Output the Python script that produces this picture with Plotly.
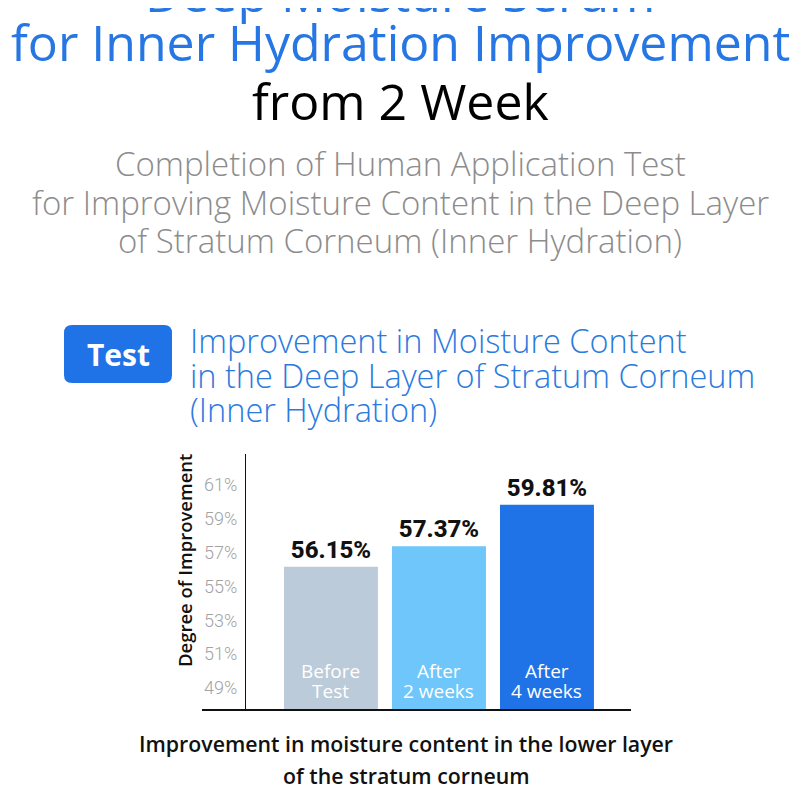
import plotly.graph_objects as go

# Dados do gráfico
categorias = ["Before Test", "After 2 weeks", "After 4 weeks"]
rotulos_barras = ["Before<br>Test", "After<br>2 weeks", "After<br>4 weeks"]
valores = [56.15, 57.37, 59.81]
cores_barras = ["#bccbd9", "#6ec6fb", "#1f73e6"]
ticks_valores = [49, 51, 53, 55, 57, 59, 61]
ticks_textos = ["49%", "51%", "53%", "55%", "57%", "59%", "61%"]

titulo = ["Deep Moisture Serum", "for Inner Hydration Improvement", "from 2 Week"]
subtitulo = ["Completion of Human Application Test",
             "for Improving Moisture Content in the Deep Layer",
             "of Stratum Corneum (Inner Hydration)"]
linhas_teste = ["Improvement in Moisture Content",
                "in the Deep Layer of Stratum Corneum",
                "(Inner Hydration)"]
legenda_baixo = ["Improvement in moisture content in the lower layer",
                 "of the stratum corneum"]

AZUL = "#1f73e6"
W, H = 800, 802
OFF = 8  # margem do body da página


def px(p):
    return (p - OFF) / W


def py(p):
    return 1 - (p - OFF) / H


def caixa_arredondada(x0, y0, x1, y1, r):
    # retângulo com cantos arredondados em coordenadas do papel
    rx, ry = r / W, r / H
    a, b, c, d = px(x0), py(y1), px(x1), py(y0)
    return (f"M {a+rx},{b} L {c-rx},{b} Q {c},{b} {c},{b+ry} "
            f"L {c},{d-ry} Q {c},{d} {c-rx},{d} L {a+rx},{d} "
            f"Q {a},{d} {a},{d-ry} L {a},{b+ry} Q {a},{b} {a+rx},{b} Z")


fig = go.Figure()

fig.add_trace(go.Bar(
    x=categorias,
    y=valores,
    marker_color=cores_barras,
    marker_line_width=0,
    text=[f"{v:.2f}%" for v in valores],
    textposition="outside",
    textfont=dict(family="Roboto", size=24, color="#111111", weight=800),
    cliponaxis=False,
    hoverinfo="skip",
))

anotacoes = []
cores_titulo = ["#2677e3", "#2677e3", "#000000"]
posicoes_titulo = [-7, 42, 101]  # primeira linha cortada no topo
for linha, cor, yy in zip(titulo, cores_titulo, posicoes_titulo):
    anotacoes.append(dict(text=linha, x=px(400), y=py(yy),
                          font=dict(family="Open Sans", size=50, color=cor)))

for i, linha in enumerate(subtitulo):
    anotacoes.append(dict(text=linha, x=px(400), y=py(163 + 39 * i),
                          font=dict(family="Open Sans", size=33, color="#8c8c8c", weight=300)))

for i, linha in enumerate(linhas_teste):
    anotacoes.append(dict(text=linha, x=px(188), y=py(341 + 34 * i), xanchor="left",
                          font=dict(family="Open Sans", size=32.5, color="#2a7ae0", weight=300)))

for i, linha in enumerate(legenda_baixo):
    anotacoes.append(dict(text=linha, x=px(406), y=py(743 + 32 * i),
                          font=dict(family="Open Sans", size=21.3, color="#111111", weight=600)))

anotacoes += [
    dict(text="<b>Test</b>", x=px(118), y=py(354),
         font=dict(family="Open Sans", size=30, color="#ffffff")),
    dict(text="Degree of Improvement", x=px(184), y=py(561), textangle=-90,
         font=dict(family="Open Sans", size=18.5, color="#111111", weight=600)),
]

for a in anotacoes:
    a.update(xref="paper", yref="paper", showarrow=False)
    a.setdefault("xanchor", "center")
    a.setdefault("yanchor", "middle")

# rótulos dentro das barras
for cat, rot in zip(categorias, rotulos_barras):
    partes = rot.split("<br>")
    for j, parte in enumerate(partes):
        anotacoes.append(dict(text=parte, x=cat, y=49.41, xref="x", yref="y",
                              yshift=10 - 20 * j, showarrow=False,
                              font=dict(family="Open Sans", size=19, color="#ffffff")))

fig.update_layout(
    width=W, height=H,
    margin=dict(l=0, r=0, t=0, b=0),
    paper_bgcolor="white",
    plot_bgcolor="white",
    showlegend=False,
    bargap=0.13,
    annotations=anotacoes,
    shapes=[dict(type="path", xref="paper", yref="paper",
                 path=caixa_arredondada(64, 325, 172, 383, 8),
                 fillcolor=AZUL, line=dict(width=0), layer="below")],
    xaxis=dict(
        domain=[px(202), px(631)],
        range=[-1.194, 2.778],
        showticklabels=False, showgrid=False, zeroline=False,
        showline=True, linecolor="#111111", linewidth=1.5,
        fixedrange=True,
    ),
    yaxis=dict(
        domain=[py(709), py(454)],
        range=[47.76, 62.81],
        anchor="free", position=px(245),
        tickvals=ticks_valores, ticktext=ticks_textos,
        tickfont=dict(family="Roboto", size=18, color="#a3a3a3", weight=300),
        ticklabelstandoff=4,
        showgrid=False, zeroline=False,
        showline=True, linecolor="#111111", linewidth=1.2,
        fixedrange=True,
    ),
)

fig.write_html("out.html")
